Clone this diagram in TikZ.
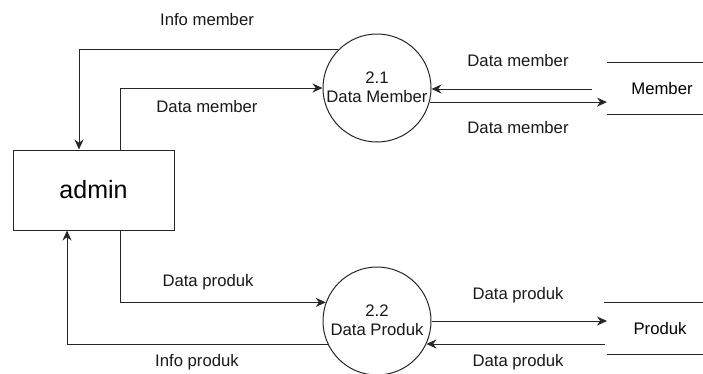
\documentclass[tikz,border=0pt]{standalone}
\usepackage{fontspec}
\setmainfont{Liberation Sans}
\usetikzlibrary{arrows.meta,calc}
\tikzset{
  flow/.style={draw=black!85, line width=1pt, -{Stealth[length=10pt,width=9pt]}},
  proc/.style={circle, draw=black!85, line width=1pt, minimum size=108pt, inner sep=0pt},
  entity/.style={rectangle, draw=black!85, line width=1pt, minimum width=161pt, minimum height=80pt, inner sep=0pt, font=\fontsize{25}{30}\selectfont},
  store/.style={rectangle, minimum width=110pt, minimum height=51pt, inner sep=0pt, font=\fontsize{16.7}{20}\selectfont},
  storeline/.style={draw=black!85, line width=1pt},
  lbl/.style={inner sep=0pt, text=black!90, font=\fontsize{16.7}{20}\selectfont},
  ptext/.style={inner sep=0pt, align=center, text=black!90, font=\fontsize{16.7}{19.5}\selectfont}
}
\begin{document}
\begin{tikzpicture}[x=1pt,y=-1pt]
\path[use as bounding box, clip] (0,0) rectangle (703,373);
\fill[white] (0,0) rectangle (703,373);

% nodes
\node[entity] (admin) at (93.5,190) {admin};
\node[proc] (c1) at (377,88) {};
\node[ptext] (t1) at (377,87) {2.1\\Data Member};
\node[proc] (c2) at (377,321) {};
\node[ptext] (t2) at (377,320) {2.2\\Data Produk};
\node[store] (member) at (662,88.5) {Member};
\node[store] (produk) at (660,328.5) {Produk};

% store lines
\draw[storeline] (member.north west) -- (member.north east);
\draw[storeline] (member.south west) -- (member.south east);
\draw[storeline] ([xshift=-1pt]produk.north west) -- (produk.north east);
\draw[storeline] ([xshift=2pt]produk.south west) -- (produk.south east);

% arrow ends at the stores
\coordinate (mOut) at (592,89);
\coordinate (mIn) at (607,102);
\coordinate (pIn) at (607,322);
\coordinate (pOut) at (605,344);

% connectors
\draw[flow] (c1.135) -| ([xshift=-14.5pt]admin.north);
\draw[flow] ([xshift=26.5pt]admin.north) |- (c1.west);
\draw[flow] (mOut) -- (c1.east |- mOut);
\draw[flow] (c1.-15) -- (c1.-15 -| mIn);

\draw[flow] ([xshift=26.5pt]admin.south) |- (c2.160);
\draw[flow] (c2.205) -| ([xshift=-26.5pt]admin.south);
\draw[flow] (c2.east) -- (c2.east -| pIn);
\draw[flow] (pOut) -- (c2.-25 |- pOut);

% labels
\node[lbl] (l1) at (207,20) {Info member};
\node[lbl] (l2) at (207,107) {Data member};
\node[lbl] (l3) at (518,61) {Data member};
\node[lbl] (l4) at (518,128) {Data member};
\node[lbl] (l5) at (208,282) {Data produk};
\node[lbl] (l6) at (197,362) {Info produk};
\node[lbl] (l7) at (518,295) {Data produk};
\node[lbl] (l8) at (518,362) {Data produk};
\end{tikzpicture}
\end{document}
